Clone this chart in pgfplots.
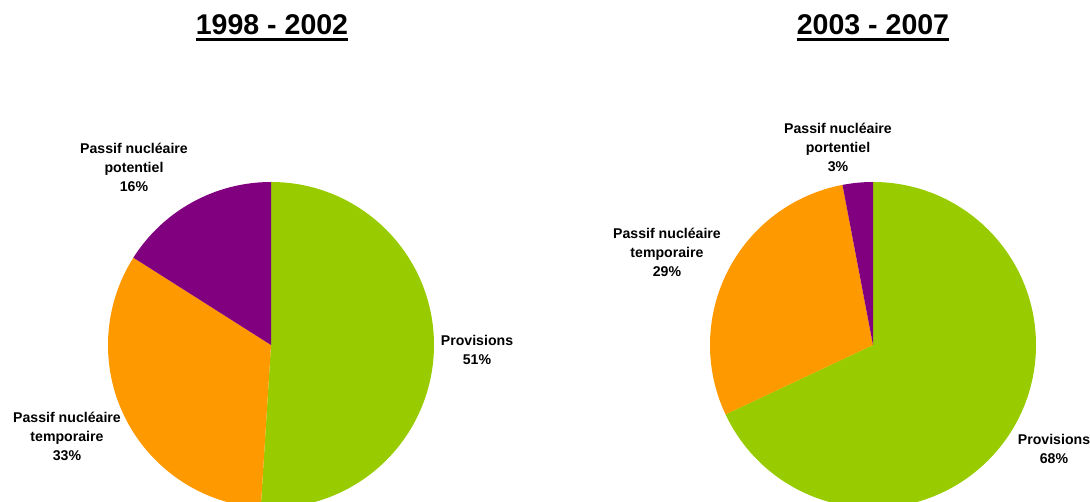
\documentclass[border=0pt]{standalone}
\usepackage{pgfplots}
\pgfplotsset{compat=1.18}
\usepackage{pgfplotstable}
\usepackage{fontspec}
\setmainfont{Liberation Sans}
\definecolor{pvgreen}{HTML}{99CC00}
\definecolor{pvorange}{HTML}{FF9900}
\definecolor{pvpurple}{HTML}{800080}

% shares in percent: A = 1998-2002, B = 2003-2007
% rows: Provisions, Passif nucleaire temporaire, Passif nucleaire potentiel
\pgfplotstableread{
slice A B
1 51 68
2 33 29
3 16 3
}\piedata

\begin{document}
\begin{tikzpicture}
\pgfplotstablegetelem{0}{A}\of\piedata \pgfmathsetmacro{\aOne}{3.6*\pgfplotsretval}
\pgfplotstablegetelem{1}{A}\of\piedata \pgfmathsetmacro{\aTwo}{3.6*\pgfplotsretval}
\pgfplotstablegetelem{2}{A}\of\piedata \pgfmathsetmacro{\aThree}{3.6*\pgfplotsretval}
\pgfplotstablegetelem{0}{B}\of\piedata \pgfmathsetmacro{\bOne}{3.6*\pgfplotsretval}
\pgfplotstablegetelem{1}{B}\of\piedata \pgfmathsetmacro{\bTwo}{3.6*\pgfplotsretval}
\pgfplotstablegetelem{2}{B}\of\piedata \pgfmathsetmacro{\bThree}{3.6*\pgfplotsretval}
\pgfmathsetmacro{\aS}{90-\aOne}
\pgfmathsetmacro{\aT}{90-\aOne-\aTwo}
\pgfmathsetmacro{\bS}{90-\bOne}
\pgfmathsetmacro{\bT}{90-\bOne-\bTwo}
\def\R{122.25pt}
\begin{axis}[at={(0,0)}, anchor=south west, width=817.5pt, height=376.5pt,
  scale only axis, xmin=0, xmax=1090, ymin=0, ymax=502, y dir=reverse,
  hide axis, clip=true]
% left pie
\fill[pvgreen] (axis cs:271,345) -- ++(90:\R) arc[start angle=90, delta angle=-\aOne, radius=\R] -- cycle;
\fill[pvorange] (axis cs:271,345) -- ++(\aS:\R) arc[start angle=\aS, delta angle=-\aTwo, radius=\R] -- cycle;
\fill[pvpurple] (axis cs:271,345) -- ++(\aT:\R) arc[start angle=\aT, delta angle=-\aThree, radius=\R] -- cycle;
% right pie
\fill[pvgreen] (axis cs:873,345) -- ++(90:\R) arc[start angle=90, delta angle=-\bOne, radius=\R] -- cycle;
\fill[pvorange] (axis cs:873,345) -- ++(\bS:\R) arc[start angle=\bS, delta angle=-\bTwo, radius=\R] -- cycle;
\fill[pvpurple] (axis cs:873,345) -- ++(\bT:\R) arc[start angle=\bT, delta angle=-\bThree, radius=\R] -- cycle;
% titles
\node[font=\bfseries\fontsize{21.4}{24}\selectfont, anchor=base, inner sep=0pt] (t1) at (axis cs:272,35) {1998 - 2002};
\draw[line width=2.2pt] ([yshift=-3.5pt]t1.base west) -- ([yshift=-3.5pt]t1.base east);
\node[font=\bfseries\fontsize{21.4}{24}\selectfont, anchor=base, inner sep=0pt] (t2) at (axis cs:873,35) {2003 - 2007};
\draw[line width=2.2pt] ([yshift=-3.5pt]t2.base west) -- ([yshift=-3.5pt]t2.base east);
% labels
\tikzset{lab/.style={align=center, inner sep=0pt, font=\bfseries\fontsize{10.6}{14.2}\selectfont}}
\node[lab] at (axis cs:134,167) {Passif nucléaire\\potentiel\\16\%};
\node[lab] at (axis cs:477,350) {Provisions\\51\%};
\node[lab] at (axis cs:67,436) {Passif nucléaire\\temporaire\\33\%};
\node[lab] at (axis cs:838,147) {Passif nucléaire\\portentiel\\3\%};
\node[lab] at (axis cs:667,252) {Passif nucléaire\\temporaire\\29\%};
\node[lab] at (axis cs:1054,449) {Provisions\\68\%};
\end{axis}
\pgfresetboundingbox
\path[use as bounding box] (0,0) rectangle (817.5pt,376.5pt);
\end{tikzpicture}
\end{document}
